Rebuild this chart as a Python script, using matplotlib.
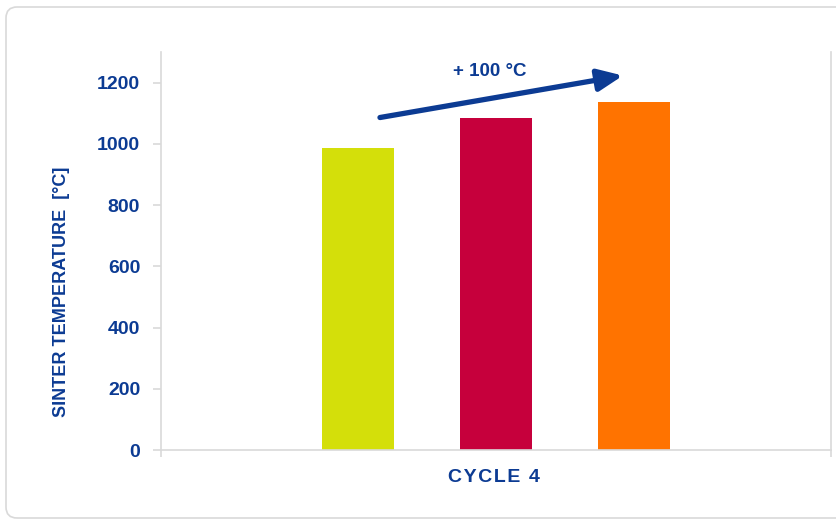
import matplotlib
matplotlib.use("Agg")
import matplotlib.pyplot as plt
from matplotlib.patches import FancyBboxPatch
from matplotlib.transforms import IdentityTransform

# data
runs = ["run 1", "run 2", "run 3"]
sinter_temp = [985, 1083, 1138]
bar_colors = ["#d4df0a", "#c6003c", "#ff7300"]
yticks = [0, 200, 400, 600, 800, 1000, 1200]
cycle_label = "CYCLE 4"
increase_label = "+ 100 °C"

blue = "#0c3b93"
grey = "#d9d9d9"
font = ["Liberation Sans", "DejaVu Sans"]

fig = plt.figure(figsize=(8.36, 5.19), dpi=100)
fig.patch.set_facecolor("white")

# rounded frame around the chart
frame = FancyBboxPatch((6, 1), 845, 511, boxstyle="round,pad=0,rounding_size=11",
                       transform=IdentityTransform(), facecolor="none",
                       edgecolor=grey, lw=1.2, clip_on=False)
fig.add_artist(frame)

ax = fig.add_axes([0.1926, 0.1329, 0.8014, 0.7669])

xpos = [-1, 0, 1]
ax.bar(xpos, sinter_temp, width=0.522, color=bar_colors, zorder=2)

ax.set_xlim(-2.428, 2.428)
ax.set_ylim(0, 1300)
ax.set_yticks(yticks)
ax.set_yticklabels([str(v) for v in yticks], fontfamily=font,
                   fontweight="bold", fontsize=14, color=blue)
ax.set_xticks([-2.428, 2.428])
ax.set_xticklabels(["", ""])

for s in ["left", "bottom", "right"]:
    ax.spines[s].set_color(grey)
    ax.spines[s].set_linewidth(1.2)
ax.spines["top"].set_visible(False)
ax.tick_params(axis="y", length=6, width=1.2, color=grey, pad=9)
ax.tick_params(axis="x", length=5, width=1.2, color=grey)

# arrow showing the increase
ax.annotate("", xy=(0.92, 1223), xytext=(-0.841, 1086),
            arrowprops=dict(arrowstyle="-|>,head_length=0.75,head_width=0.33",
                            lw=3.8, color=blue, mutation_scale=20,
                            shrinkA=0, shrinkB=0))
ax.text(-0.043, 1236, increase_label, ha="center", va="center",
        fontfamily=font, fontweight="bold", fontsize=13.5, color=blue)

fig.text(62 / 836, 1 - 292 / 519, "SINTER TEMPERATURE  [°C]", rotation=90,
         ha="center", va="center", fontfamily=font, fontweight="bold",
         fontsize=13, color=blue)
fig.text(494 / 836, 1 - 477 / 519, "\u200a".join(cycle_label), ha="center",
         va="center", fontfamily=font, fontweight="bold", fontsize=14,
         color=blue)

fig.savefig("out.png", dpi=100)
